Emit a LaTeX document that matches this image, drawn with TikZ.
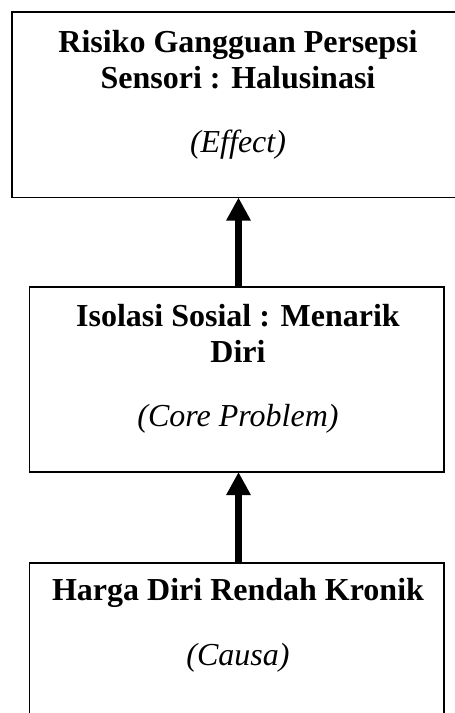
\documentclass[tikz,border=0pt]{standalone}
\usepackage{fontspec}
\setmainfont{Liberation Serif}
\usetikzlibrary{arrows.meta}
\tikzset{
  box/.style={draw, line width=1.6pt, inner sep=0pt, outer sep=0pt},
  head/.style={font=\fontsize{32}{36}\selectfont\bfseries, anchor=base, inner sep=0pt},
  role/.style={font=\fontsize{32}{36}\selectfont\itshape, anchor=base, inner sep=0pt},
  upar/.style={line width=7pt, -{Triangle[width=23pt,length=23pt]}},
}
\begin{document}
\begin{tikzpicture}[x=1pt,y=1pt]
\useasboundingbox (0,0) rectangle (455,-713);
\clip (0,0) rectangle (455,-713);

% boxes
\node[box, minimum width=448pt, minimum height=185.5pt] (top) at (236,-104.75) {};
\node[box, minimum width=414.5pt, minimum height=185pt] (mid) at (236.75,-379.5) {};
\node[box, minimum width=414.5pt, minimum height=157pt] (bot) at (236.75,-641.5) {};

% texts
\node[head] (t1) at (238,-52.7) {Risiko Gangguan Persepsi};
\node[head] (t2) at (238,-88) {Sensori : Halusinasi};
\node[role] (t3) at (238,-152.7) {(Effect)};

\node[head] (m1) at (238,-326.7) {Isolasi Sosial : Menarik};
\node[head] (m2) at (238,-362) {Diri};
\node[role] (m3) at (238,-426.7) {(Core Problem)};

\node[head] (b1) at (238,-600.7) {Harga Diri Rendah Kronik};
\node[role] (b2) at (238,-665) {(Causa)};

% arrows
\coordinate (ax) at (238.5,0);
\draw[upar] (mid.north -| ax) -- (top.south -| ax);
\draw[upar] (bot.north -| ax) -- (mid.south -| ax);
\end{tikzpicture}
\end{document}
